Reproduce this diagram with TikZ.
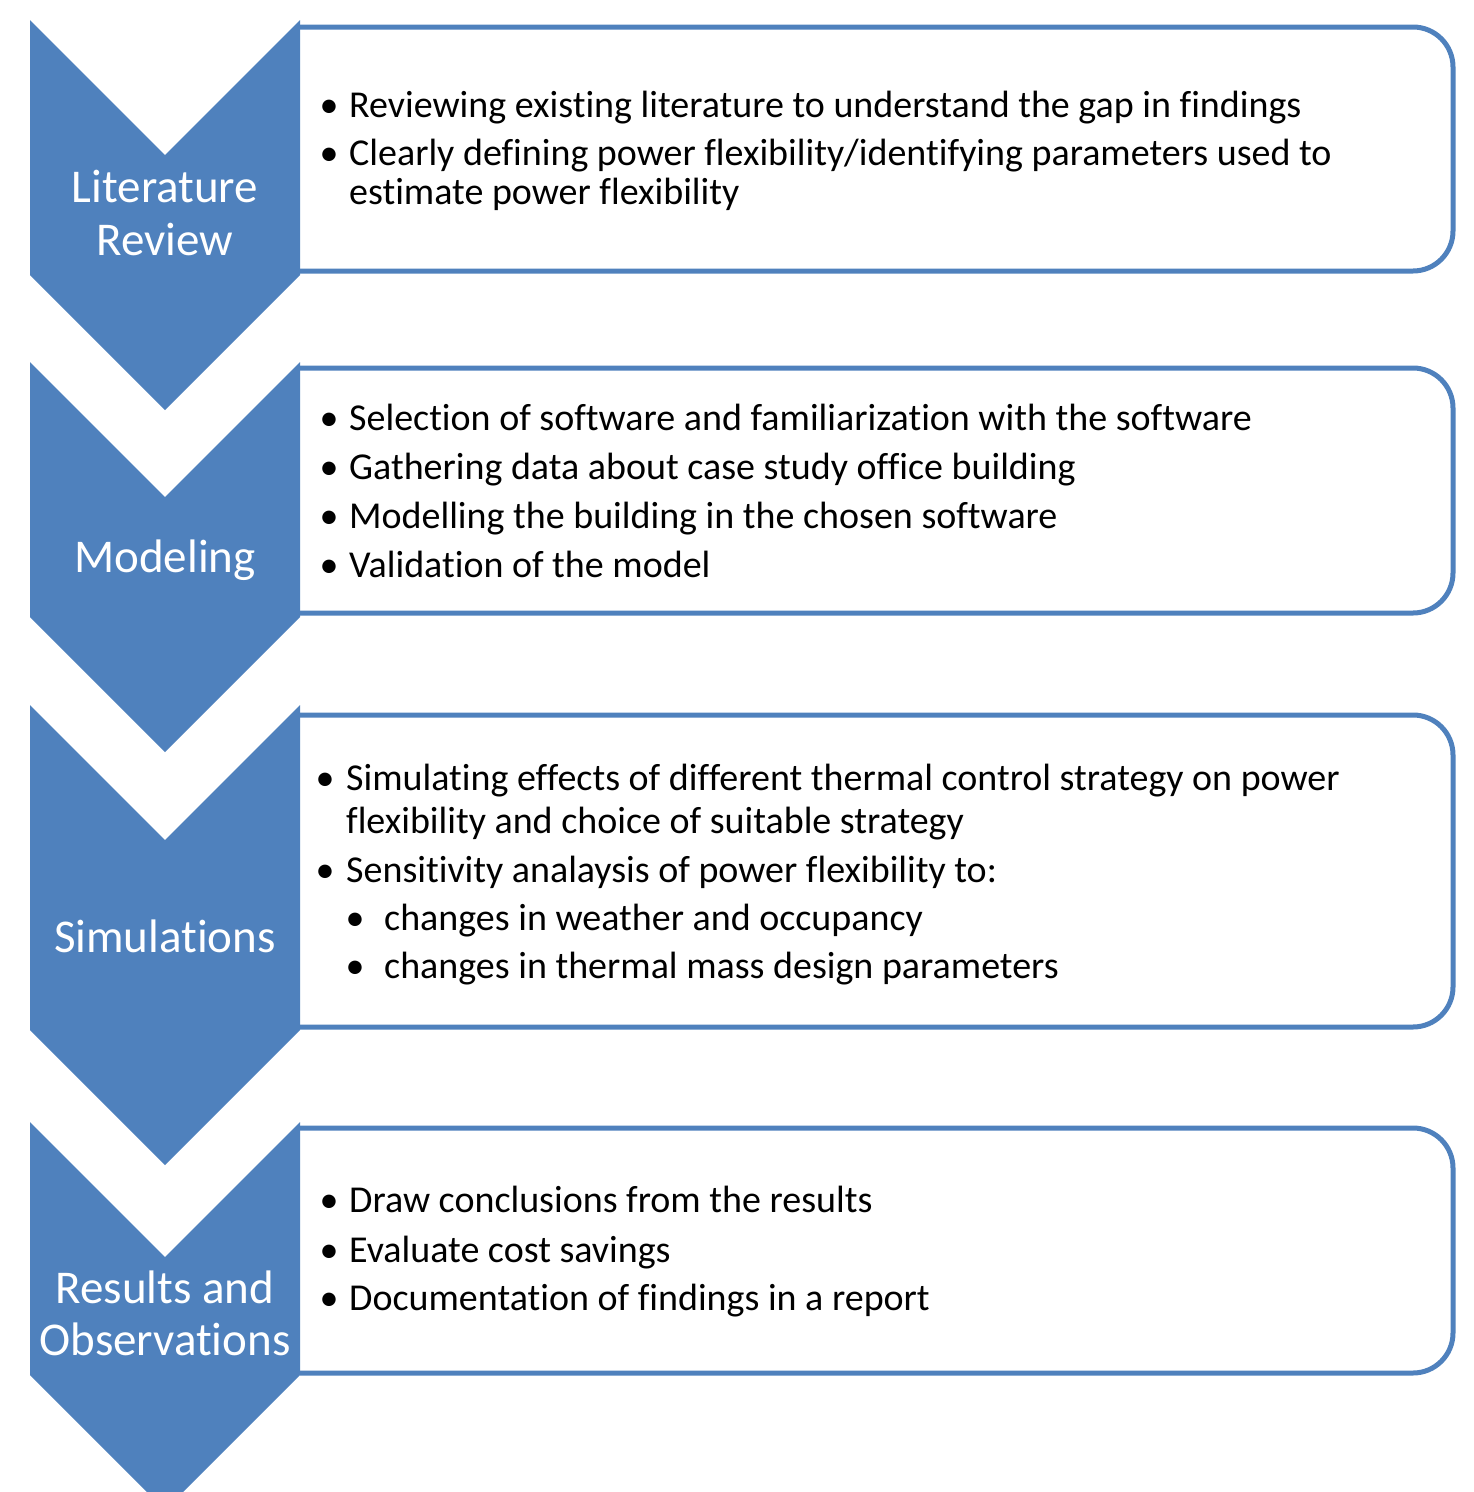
\documentclass[tikz,border=0pt]{standalone}
\usepackage{fontspec}
\setmainfont{Carlito}[Ligatures=NoCommon]
\definecolor{accent}{HTML}{4F81BD}
\begin{document}
\begin{tikzpicture}[x=1pt,y=-1pt,
  stage/.style={fill=accent, draw=none},
  panel/.style={draw=accent, line width=5pt, fill=white, rounded corners=40pt},
  stagelabel/.style={anchor=base, inner sep=0pt, text=white, font=\fontsize{47}{56}\selectfont},
  itemtext/.style={anchor=base west, inner sep=0pt, font=\fontsize{38}{42}\selectfont},
  itemdot/.style={anchor=base, inner sep=0pt, font=\fontsize{38}{42}\selectfont}]
\useasboundingbox (0,0) rectangle (1474,1492);
\clip (0,0) rectangle (1474,1492);

% text panels, open on the left where the chevrons cover them
\draw[panel] (300,27) -- (1453,27) -- (1453,271) -- (300,271);
\draw[panel] (300,368) -- (1453,368) -- (1453,613) -- (300,613);
\draw[panel] (300,715) -- (1453,715) -- (1453,1027) -- (300,1027);
\draw[panel] (300,1128) -- (1453,1128) -- (1453,1373) -- (300,1373);

% downward chevrons
\fill[stage] (30,20) -- (165,155) -- (300,20) -- (300,275) -- (165,410) -- (30,275) -- cycle;
\fill[stage] (30,362) -- (165,497) -- (300,362) -- (300,617) -- (165,752) -- (30,617) -- cycle;
\fill[stage] (30,705) -- (165,840) -- (300,705) -- (300,1030) -- (165,1165) -- (30,1030) -- cycle;
\fill[stage] (30,1122) -- (165,1257) -- (300,1122) -- (300,1375) -- (165,1510) -- (30,1375) -- cycle;

% stage titles
\node[stagelabel] (litA) at (165,202) {Literature};
\node[stagelabel] (litB) at (165,255) {Review};
\node[stagelabel] (model) at (165,572) {Modeling};
\node[stagelabel] (sim) at (165,952) {Simulations};
\node[stagelabel] (resA) at (165,1303) {Results and};
\node[stagelabel] (resB) at (165,1355) {Observations};

% literature review items
\node[itemdot] (d11) at (329,117) {•};
\node[itemtext] (t11) at (349,117) {Reviewing existing literature to understand the gap in findings};
\node[itemdot] (d12) at (329,165) {•};
\node[itemtext] (t12) at (349,165) {Clearly defining power flexibility/identifying parameters used to};
\node[itemtext] (t12b) at (349,204) {estimate power flexibility};

% modeling items
\node[itemdot] (d21) at (329,430) {•};
\node[itemtext] (t21) at (349,430) {Selection of software and familiarization with the software};
\node[itemdot] (d22) at (329,479) {•};
\node[itemtext] (t22) at (349,479) {Gathering data about case study office building};
\node[itemdot] (d23) at (329,528) {•};
\node[itemtext] (t23) at (349,528) {Modelling the building in the chosen software};
\node[itemdot] (d24) at (329,577) {•};
\node[itemtext] (t24) at (349,577) {Validation of the model};

% simulation items
\node[itemdot] (d31) at (325,790) {•};
\node[itemtext] (t31) at (346,790) {Simulating effects of different thermal control strategy on power};
\node[itemtext] (t31b) at (346,833) {flexibility and choice of suitable strategy};
\node[itemdot] (d32) at (325,882) {•};
\node[itemtext] (t32) at (346,882) {Sensitivity analaysis of power flexibility to:};
\node[itemdot] (d33) at (355,930) {•};
\node[itemtext] (t33) at (384,930) {changes in weather and occupancy};
\node[itemdot] (d34) at (355,978) {•};
\node[itemtext] (t34) at (384,978) {changes in thermal mass design parameters};

% results items
\node[itemdot] (d41) at (329,1212) {•};
\node[itemtext] (t41) at (349,1212) {Draw conclusions from the results};
\node[itemdot] (d42) at (329,1262) {•};
\node[itemtext] (t42) at (349,1262) {Evaluate cost savings};
\node[itemdot] (d43) at (329,1310) {•};
\node[itemtext] (t43) at (349,1310) {Documentation of findings in a report};
\end{tikzpicture}
\end{document}
